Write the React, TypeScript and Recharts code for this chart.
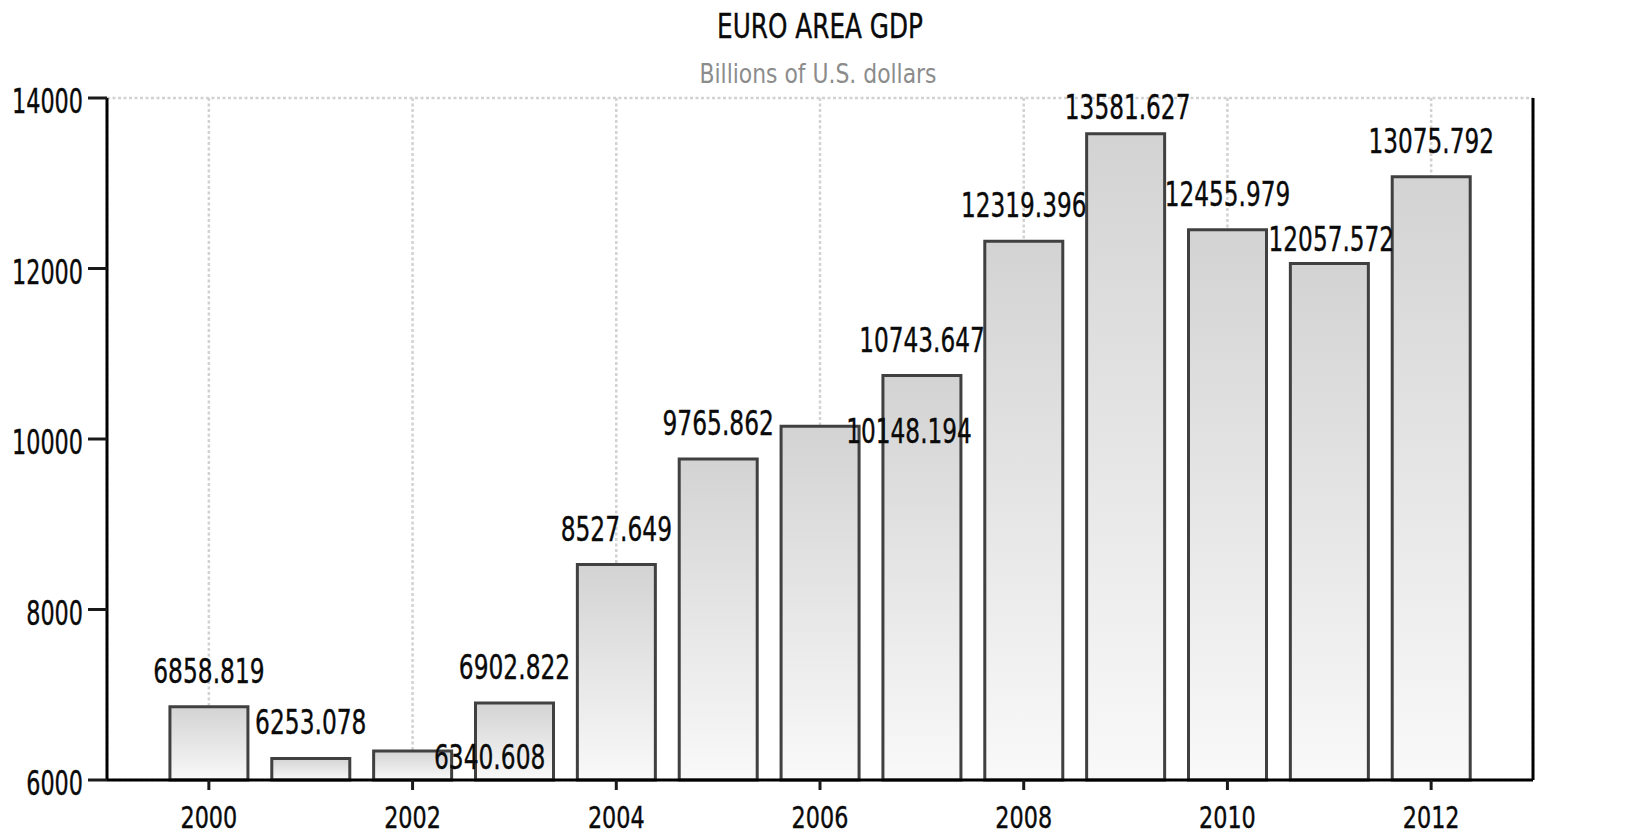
import { BarChart, Bar, XAxis, YAxis, CartesianGrid, LabelList } from "recharts";

const years = [2000, 2001, 2002, 2003, 2004, 2005, 2006, 2007, 2008, 2009, 2010, 2011, 2012];
const gdp = [
  6858.819, 6253.078, 6340.608, 6902.822, 8527.649, 9765.862, 10148.194,
  10743.647, 12319.396, 13581.627, 12455.979, 12057.572, 13075.792,
];
const xTicks = [2000, 2002, 2004, 2006, 2008, 2010, 2012];
const yTicks = [6000, 8000, 10000, 12000, 14000];

// the source shoves a few colliding labels aside: [dx, dy] per bar
const labelNudge: [number, number][] = [
  [0, 0], [0, 0], [77, 42], [0, 0], [0, 0], [0, 0], [89, 41],
  [0, 0], [0, 0], [2, 9], [0, 0], [2, 11], [0, 0],
];

const data = years.map((year, i) => ({ year, gdp: gdp[i] }));

const FONT = "DejaVu Sans";
const INK = "#0a0a0a";

// the original uses a narrow pixel font, so squeeze glyphs to its widths
const textWidth = (s: string) =>
  [...s].reduce((w, c) => w + (c === "." ? 12 : 14.2), 0);

const SqueezedText = ({ x, y, text, anchor, size = 34, fill = INK }: any) => (
  <text
    x={x}
    y={y}
    textAnchor={anchor}
    fontFamily={FONT}
    fontSize={size}
    fill={fill}
    stroke={fill}
    strokeWidth={0.4}
    textLength={textWidth(text)}
    lengthAdjust="spacingAndGlyphs"
  >
    {text}
  </text>
);

const XTick = ({ x, y, payload }: any) => (
  <SqueezedText x={x} y={y + 36} size={31} text={String(payload.value)} anchor="middle" />
);

const LeftTick = ({ x, y, payload }: any) => (
  <SqueezedText x={x - 3} y={y + 15} text={String(payload.value)} anchor="end" />
);

const RightTick = ({ x, y, payload }: any) => (
  <SqueezedText x={x + 2} y={y + 15} text={String(payload.value)} anchor="start" />
);

const ValueLabel = (props: any) => {
  const { x, y, width, value } = props;
  const i = typeof props.index === "number" ? props.index : gdp.indexOf(value);
  const [dx, dy] = labelNudge[i] ?? [0, 0];
  return (
    <SqueezedText
      x={Number(x) + Number(width) / 2 + dx}
      y={Number(y) - 24 + dy}
      text={Number(value).toFixed(3)}
      anchor="middle"
    />
  );
};

export default function App() {
  return (
    <div
      style={{
        position: "absolute",
        left: 0,
        top: 0,
        width: 1634,
        height: 836,
        background: "#fff",
      }}
    >
      <BarChart
        width={1634}
        height={836}
        data={data}
        margin={{ top: 98, right: 0, bottom: 0, left: 0 }}
        barSize={78}
      >
        <defs>
          <linearGradient id="barFill" x1="0" y1="0" x2="0" y2="1">
            <stop offset="0%" stopColor="#d3d3d3" />
            <stop offset="100%" stopColor="#f9f9f9" />
          </linearGradient>
        </defs>
        <CartesianGrid stroke="#d2d2d2" strokeWidth={2.5} strokeDasharray="3 2.5" />
        <Bar
          dataKey="gdp"
          yAxisId="left"
          fill="url(#barFill)"
          stroke="#404040"
          strokeWidth={3}
          isAnimationActive={false}
        >
          <LabelList dataKey="gdp" content={ValueLabel} />
        </Bar>
        <XAxis
          dataKey="year"
          type="number"
          domain={[1999, 2013]}
          ticks={xTicks}
          height={56}
          stroke="#000"
          strokeWidth={3}
          tickSize={10}
          tickMargin={2}
          tickLine={{ stroke: "#1a1a1a", strokeWidth: 3 }}
          tick={XTick}
        />
        <YAxis
          yAxisId="left"
          orientation="left"
          domain={[6000, 14000]}
          ticks={yTicks}
          width={107}
          stroke="#000"
          strokeWidth={3}
          tickSize={19}
          tickMargin={2}
          tickLine={{ stroke: "#1a1a1a", strokeWidth: 3 }}
          tick={LeftTick}
        />
        <YAxis
          yAxisId="right"
          orientation="right"
          domain={[6000, 14000]}
          ticks={yTicks}
          width={101}
          stroke="#000"
          strokeWidth={3}
          tickSize={19}
          tickMargin={2}
          tickLine={{ stroke: "#1a1a1a", strokeWidth: 3 }}
          tick={RightTick}
        />
      </BarChart>
      <svg
        width={1634}
        height={100}
        style={{ position: "absolute", left: 0, top: 0, pointerEvents: "none" }}
      >
        <text
          x={820}
          y={38}
          textAnchor="middle"
          fontFamily={FONT}
          fontSize={34}
          fill={INK}
          stroke={INK}
          strokeWidth={0.4}
          textLength={206}
          lengthAdjust="spacingAndGlyphs"
        >
          EURO AREA GDP
        </text>
        <text
          x={818}
          y={83}
          textAnchor="middle"
          fontFamily={FONT}
          fontSize={26}
          fill="#8c8c8c"
          textLength={237}
          lengthAdjust="spacingAndGlyphs"
        >
          Billions of U.S. dollars
        </text>
      </svg>
    </div>
  );
}
